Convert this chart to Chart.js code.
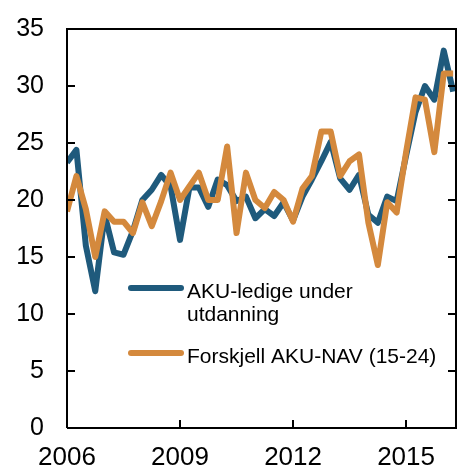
<!DOCTYPE html>
<html><head><meta charset="utf-8">
<script src="https://cdn.jsdelivr.net/npm/chart.js@4/dist/chart.umd.min.js"></script>
<style>html,body{margin:0;padding:0;background:#fff}#wrap{width:457px;height:468px;position:relative}</style>
</head><body><div id="wrap"><canvas id="c" width="457" height="468"></canvas></div>
<script>
const startYear = 2006;
const akuLedige = [23.3,24.4,16.0,12.0,18.7,15.4,15.2,17.3,20.0,20.9,22.2,21.2,16.5,21.1,21.1,19.4,21.8,21.3,19.9,20.3,18.4,19.2,18.6,19.8,18.2,20.3,21.8,23.4,25.1,21.9,20.9,22.2,18.7,18.0,20.3,19.9,23.9,27.7,30.0,28.8,33.1,29.5];
const forskjell = [19.0,22.1,19.2,15.0,19.0,18.1,18.1,17.1,19.8,17.7,19.9,22.4,20.0,21.2,22.4,20.0,20.0,24.7,17.1,22.4,20.0,19.3,20.7,20.0,18.1,21.0,22.1,26.0,26.0,22.1,23.4,24.0,18.0,14.3,19.8,18.9,24.2,29.0,28.8,24.2,31.1,31.1];
const xTickYears = [2006, 2009, 2012, 2015];
const yTicks = [0,5,10,15,20,25,30,35];
const seriesNames = [["AKU-ledige under","utdanning"],["Forskjell AKU-NAV (15-24)"]];
const colors = ["#1F5A7C","#D4893D"];

const toPts = arr => arr.map((v,i)=>({x:i,y:v}));
const FONT = "'Liberation Sans', Arial, sans-serif";

const framePlugin = {
  id:'frame',
  afterDatasetsDraw(chart){
    const {ctx, chartArea:a, scales:{x,y}} = chart;
    ctx.save();
    ctx.strokeStyle='#000'; ctx.lineWidth=2;
    ctx.beginPath();
    ctx.moveTo(a.left,a.bottom); ctx.lineTo(a.left,a.top); ctx.lineTo(a.right,a.top); ctx.lineTo(a.right,a.bottom); ctx.lineTo(a.left,a.bottom);
    ctx.stroke();
    y.ticks.forEach(t=>{
      const py=Math.round(y.getPixelForValue(t.value));
      ctx.beginPath(); ctx.moveTo(a.left,py); ctx.lineTo(a.left+8,py); ctx.stroke();
      ctx.beginPath(); ctx.moveTo(a.right,py); ctx.lineTo(a.right-8,py); ctx.stroke();
    });
    x.ticks.forEach(t=>{
      const px=Math.round(x.getPixelForValue(t.value));
      ctx.beginPath(); ctx.moveTo(px,a.bottom); ctx.lineTo(px,a.bottom-8); ctx.stroke();
    });
    const legY=[288,353];
    ctx.font = "21px " + FONT;
    ctx.fillStyle='#000';
    ctx.textBaseline='alphabetic';
    legY.forEach((ly,i)=>{
      ctx.strokeStyle=colors[i]; ctx.lineWidth=6; ctx.lineCap='round';
      ctx.beginPath(); ctx.moveTo(131,ly); ctx.lineTo(181,ly); ctx.stroke();
      seriesNames[i].forEach((s,k)=>ctx.fillText(s,187,ly+10+k*23));
    });
    ctx.restore();
  }
};

new Chart(document.getElementById('c'),{
  type:'line',
  data:{datasets:[
    {label:seriesNames[0].join(' '),data:toPts(akuLedige),borderColor:colors[0],borderWidth:6,pointRadius:0,tension:0,fill:false,borderJoinStyle:'round',order:1},
    {label:seriesNames[1].join(' '),data:toPts(forskjell),borderColor:colors[1],borderWidth:6,pointRadius:0,tension:0,fill:false,borderJoinStyle:'round',order:0}
  ]},
  options:{
    responsive:false,animation:false,
    layout:{padding:{top:29,right:1,left:0,bottom:0}},
    plugins:{legend:{display:false},tooltip:{enabled:false}},
    scales:{
      x:{type:'linear',min:0,max:41.3,
        afterBuildTicks:s=>{s.ticks=xTickYears.map(yr=>({value:(yr-startYear)*4}));},
        afterFit:s=>{s.height=40;s.paddingLeft=0;s.paddingRight=0;},
        grid:{display:false,drawTicks:false},border:{display:false},
        ticks:{padding:14,color:'#000',font:{size:26,family:FONT},maxRotation:0,autoSkip:false,
          callback:v=>String(startYear+v/4)}},
      y:{type:'linear',min:0,max:35,
        afterBuildTicks:s=>{s.ticks=yTicks.map(v=>({value:v}));},
        afterFit:s=>{s.width=67;s.paddingTop=0;s.paddingBottom=0;},
        grid:{display:false,drawTicks:false},border:{display:false},
        ticks:{padding:23,color:'#000',font:{size:25,family:FONT}}}
    }
  },
  plugins:[framePlugin]
});
</script></body></html>
